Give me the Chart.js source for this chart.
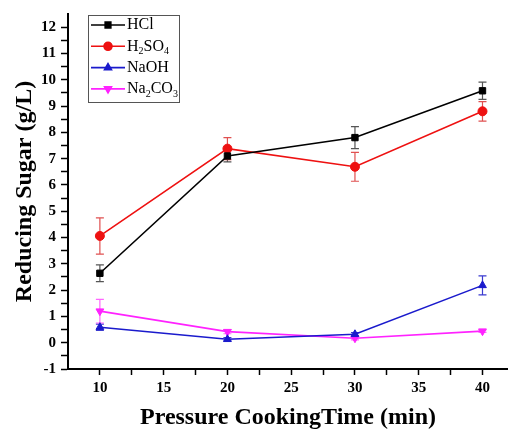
<!DOCTYPE html>
<html>
<head>
<meta charset="utf-8">
<script src="https://cdn.jsdelivr.net/npm/chart.js@4"></script>
<style>
  html, body { margin: 0; padding: 0; background: #fff; }
  #wrap { width: 508px; height: 432px; }
</style>
</head>
<body>
<div id="wrap"><canvas id="grafica" width="508" height="432"></canvas></div>
<script>
const tiempos = [10, 20, 30, 40];
const hcl = [2.64, 7.1, 7.8, 9.58];
const hclErr = [0.32, 0.22, 0.42, 0.33];
const h2so4 = [4.06, 7.38, 6.69, 8.8];
const h2so4Err = [0.69, 0.42, 0.55, 0.37];
const naoh = [0.59, 0.13, 0.32, 2.18];
const naohErr = [0.12, 0.06, 0.06, 0.36];
const na2co3 = [1.2, 0.42, 0.17, 0.44];
const na2co3Err = [0.45, 0.08, 0.06, 0.05];
const xTicks = [10, 12.5, 15, 17.5, 20, 22.5, 25, 27.5, 30, 32.5, 35, 37.5, 40];
const yTicks = [-1, -0.5, 0, 0.5, 1, 1.5, 2, 2.5, 3, 3.5, 4, 4.5, 5, 5.5, 6, 6.5, 7, 7.5, 8, 8.5, 9, 9.5, 10, 10.5, 11, 11.5, 12];

const fuente = '"Liberation Serif", "Times New Roman", serif';

function serie(label, valores, errores, color, errColor, estilo, rot) {
    return {
        label: label,
        data: tiempos.map((t, i) => ({ x: t, y: valores[i] })),
        errores: errores,
        errColor: errColor,
        borderColor: color,
        backgroundColor: color,
        borderWidth: 1.6,
        pointStyle: estilo,
        rotation: rot,
        pointRadius: 4.5,
        pointBorderWidth: 1,
        tension: 0
    };
}

// barras de error
const barrasError = {
    id: 'barrasError',
    beforeDatasetsDraw(chart) {
        const ctx = chart.ctx;
        const x = chart.scales.x, y = chart.scales.y;
        chart.data.datasets.forEach(ds => {
            ctx.save();
            ctx.strokeStyle = ds.errColor;
            ctx.lineWidth = 1.2;
            ds.data.forEach((p, i) => {
                const e = ds.errores[i];
                const px = x.getPixelForValue(p.x);
                const top = y.getPixelForValue(p.y + e);
                const bot = y.getPixelForValue(p.y - e);
                ctx.beginPath();
                ctx.moveTo(px, top); ctx.lineTo(px, bot);
                ctx.moveTo(px - 4, top); ctx.lineTo(px + 4, top);
                ctx.moveTo(px - 4, bot); ctx.lineTo(px + 4, bot);
                ctx.stroke();
            });
            ctx.restore();
        });
    }
};

// leyenda con subindices
const leyenda = {
    id: 'leyenda',
    afterDraw(chart) {
        const ctx = chart.ctx;
        ctx.save();
        ctx.strokeStyle = '#555';
        ctx.lineWidth = 1;
        ctx.strokeRect(88.5, 15.5, 91, 87);
        chart.data.datasets.forEach((ds, i) => {
            const yy = 25 + i * 21.3;
            ctx.strokeStyle = ds.borderColor;
            ctx.lineWidth = 1.6;
            ctx.beginPath();
            ctx.moveTo(91, yy); ctx.lineTo(125, yy);
            ctx.stroke();
            Chart.helpers.drawPoint(ctx, {
                pointStyle: ds.pointStyle, rotation: ds.rotation, radius: 4, borderWidth: 1
            }, 108, yy);
            ctx.fillStyle = ds.borderColor;
            ctx.fill();
            // texto
            ctx.fillStyle = '#000';
            ctx.textBaseline = 'middle';
            let tx = 127;
            for (const ch of ds.label) {
                const sub = /[0-9]/.test(ch);
                ctx.font = (sub ? '10px ' : '16px ') + fuente;
                ctx.fillText(ch, tx, sub ? yy + 5 : yy);
                tx += ctx.measureText(ch).width;
            }
        });
        ctx.restore();
    }
};

const ctx = document.getElementById('grafica').getContext('2d');
const grafica = new Chart(ctx, {
    type: 'line',
    data: {
        datasets: [
            serie('HCl', hcl, hclErr, '#000000', '#555555', 'rect', 0),
            serie('H2SO4', h2so4, h2so4Err, '#ee1111', '#e05050', 'circle', 0),
            serie('NaOH', naoh, naohErr, '#1a1acc', '#3a3ad0', 'triangle', 0),
            serie('Na2CO3', na2co3, na2co3Err, '#ff22ff', '#ff66ff', 'triangle', 180)
        ]
    },
    options: {
        responsive: false,
        animation: false,
        layout: { autoPadding: false, padding: { top: 10, right: 0, left: 0, bottom: 0 } },
        scales: {
            x: {
                type: 'linear',
                min: 7.5,
                max: 42,
                afterBuildTicks: s => { s.ticks = xTicks.map(v => ({ value: v })); },
                afterFit: s => { s.height = 63; },
                grid: { drawOnChartArea: false, tickLength: 6, tickColor: '#000', tickWidth: 1.5 },
                border: { color: '#000', width: 2 },
                ticks: {
                    color: '#000',
                    padding: 4,
                    maxRotation: 0,
                    autoSkip: false,
                    font: { family: fuente, size: 15, weight: 'bold' },
                    callback: v => (v % 5 === 0 ? v : '')
                },
                title: {
                    display: true,
                    text: 'Pressure CookingTime (min)',
                    color: '#000',
                    padding: { top: 0, bottom: 0 },
                    font: { family: fuente, size: 24, weight: 'bold' }
                }
            },
            y: {
                min: -1,
                max: 12.5,
                afterBuildTicks: s => { s.ticks = yTicks.map(v => ({ value: v })); },
                afterFit: s => { s.width = 68; },
                grid: { drawOnChartArea: false, tickLength: 7, tickColor: '#000', tickWidth: 1.5 },
                border: { color: '#000', width: 2 },
                ticks: {
                    color: '#000',
                    padding: 5,
                    autoSkip: false,
                    font: { family: fuente, size: 15, weight: 'bold' },
                    callback: v => (Number.isInteger(v) ? v : '')
                },
                title: {
                    display: true,
                    text: 'Reducing Sugar (g/L)',
                    color: '#000',
                    padding: { top: 10, bottom: 0 },
                    font: { family: fuente, size: 24, weight: 'bold' }
                }
            }
        },
        plugins: {
            legend: { display: false },
            tooltip: { enabled: false }
        }
    },
    plugins: [barrasError, leyenda]
});
</script>
</body>
</html>
